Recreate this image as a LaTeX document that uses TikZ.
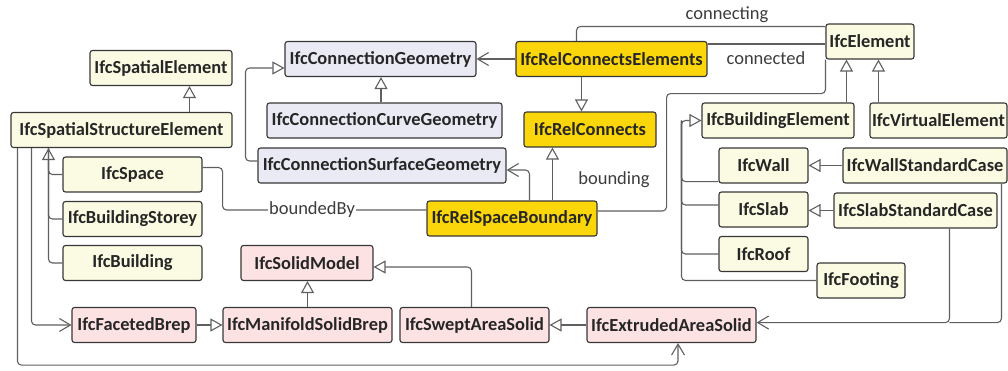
\documentclass[tikz,border=0pt]{standalone}
\usepackage{fontspec}
\setmainfont{Carlito}
\usetikzlibrary{arrows.meta,calc}
\definecolor{cream}{RGB}{251,250,226}
\definecolor{lilac}{RGB}{234,234,245}
\definecolor{gold}{RGB}{250,214,10}
\definecolor{rose}{RGB}{253,226,228}
\definecolor{edge}{RGB}{55,55,55}
\definecolor{wirecol}{RGB}{95,95,95}
\definecolor{lblcol}{RGB}{60,60,60}
\tikzset{
  cls/.style={draw=edge, line width=1.1pt, rounded corners=2.5pt, inner sep=0pt,
    minimum height=35pt, text=black!85, font=\fontsize{18.4}{21}\selectfont\bfseries},
  lab/.style={inner sep=1pt, text=lblcol, font=\fontsize{18.5}{21}\selectfont},
  wire/.style={draw=wirecol, line width=1.1pt, rounded corners=4pt},
  inh/.style={wire, -{Triangle[length=12pt,width=13pt,fill=white]}},
  assoc/.style={wire, -{Straight Barb[length=11pt,width=13pt]}},
}
\begin{document}
\begin{tikzpicture}[x=1pt,y=-1pt]
\useasboundingbox (0,0) rectangle (1008,370);

% spatial structure classes
\node[cls, fill=cream, minimum width=142pt] (se)  at (161,68)    {IfcSpatialElement};
\node[cls, fill=cream, minimum width=221pt] (sse) at (121.5,130) {IfcSpatialStructureElement};
\node[cls, fill=cream, minimum width=139pt] (space)    at (132.5,174.5) {IfcSpace};
\node[cls, fill=cream, minimum width=139pt] (storey)   at (132.5,219)   {IfcBuildingStorey};
\node[cls, fill=cream, minimum width=139pt] (building) at (132.5,263)   {IfcBuilding};

% solid model classes
\node[cls, fill=rose, minimum width=124pt] (fb)  at (134,325)   {IfcFacetedBrep};
\node[cls, fill=rose, minimum width=169pt] (msb) at (307.5,325) {IfcManifoldSolidBrep};
\node[cls, fill=rose, minimum width=132pt] (sm)  at (307,263)   {IfcSolidModel};
\node[cls, fill=rose, minimum width=149pt] (sas) at (474.5,325) {IfcSweptAreaSolid};
\node[cls, fill=rose, minimum width=169pt] (eas) at (671.5,325) {IfcExtrudedAreaSolid};

% connection geometry classes
\node[cls, fill=lilac, minimum width=191pt] (cg)  at (380.5,59)  {IfcConnectionGeometry};
\node[cls, fill=lilac, minimum width=235pt] (ccg) at (384.5,120.5) {IfcConnectionCurveGeometry};
\node[cls, fill=lilac, minimum width=248pt] (csg) at (382,165.5) {IfcConnectionSurfaceGeometry};

% relationship classes
\node[cls, fill=gold, minimum width=191pt] (rce) at (611.5,59)  {IfcRelConnectsElements};
\node[cls, fill=gold, minimum width=132pt] (rc)  at (590,129.5) {IfcRelConnects};
\node[cls, fill=gold, minimum width=170pt] (rsb) at (512,218.5) {IfcRelSpaceBoundary};

% element classes
\node[cls, fill=cream, minimum width=88pt]  (el)   at (870,41.5)  {IfcElement};
\node[cls, fill=cream, minimum width=152pt] (be)   at (778,120.5) {IfcBuildingElement};
\node[cls, fill=cream, minimum width=137pt] (ve)   at (938.5,120.5) {IfcVirtualElement};
\node[cls, fill=cream, minimum width=89pt]  (wall) at (763.5,165.5) {IfcWall};
\node[cls, fill=cream, minimum width=89pt]  (slab) at (763.5,209.5) {IfcSlab};
\node[cls, fill=cream, minimum width=89pt]  (roof) at (763.5,254)   {IfcRoof};
\node[cls, fill=cream, minimum width=88pt]  (ft)   at (861,280.5)   {IfcFooting};
\node[cls, fill=cream, minimum width=164pt] (ws)   at (925,165.5)   {IfcWallStandardCase};
\node[cls, fill=cream, minimum width=163pt] (ss)   at (915.5,210.5) {IfcSlabStandardCase};

% spatial hierarchy
\draw[inh] ($(sse.north west)+(179,0)$) -- ($(se.south west)+(100,0)$);
\coordinate (st) at ($(sse.south west)+(38,0)$);
\draw[inh] (space.west) -| (st);
\draw[wire] (storey.west) -| (st);
\draw[wire] (building.west) -| (st);
\draw[assoc] ($(sse.south west)+(21,0)$) |- (fb.west);
\coordinate (ub) at ($(eas.south)+(6.5,22)$);
\draw[assoc] ($(sse.south west)+(7,0)$) |- (ub) -- (ub |- eas.south);

% solid model hierarchy
\draw[inh] (fb.east) -- (msb.west);
\draw[inh] (msb.north) -- (msb.north |- sm.south);
\draw[inh] ($(sas.north west)+(72,0)$) |- ($(sm.east)+(0,4)$);
\draw[inh] (eas.west) -- (sas.east);
\coordinate (sj) at ($(ss.south west)+(116,94)$);
\draw[assoc] ($(ss.south west)+(116,0)$) -- (sj) -- (sj -| eas.east);
\draw[wire] ($(ws.south west)+(159,0)$) |- (sj);

% space boundary
\draw[wire] ($(space.east)+(0,-7)$) -| ($(space.east)+(20,20)$) |- ($(rsb.west)+(0,-8.5)$);
\node[lab, fill=white] (lbounded) at (312,210) {boundedBy};
\draw[assoc] ($(rsb.north west)+(103,0)$) |- ($(csg.east)+(0,4.5)$);
\coordinate (r1) at ($(rsb.north west)+(126,0)$);
\draw[inh] (r1) -- (r1 |- rc.south);
\draw[wire] ($(rsb.east)+(0,-7.5)$) -| ($(rsb.east)+(69,-60)$) |- ($(el.south west)+(0,34)$) -- (el.south west);
\node[lab] (lbounding) at (614,180) {bounding};

% connects elements
\draw[assoc] (rce.west) -- (cg.east);
\coordinate (r2) at ($(rce.south west)+(66,0)$);
\draw[inh] (r2) -- (r2 |- rc.north);
\coordinate (r3) at ($(ccg.north)+(-3.5,0)$);
\draw[inh] (r3) -- (r3 |- cg.south);
\draw[inh] ($(csg.west)+(0,-4.5)$) -| ($(csg.west)+(-12,-50)$) |- ($(cg.west)+(0,9)$);
\coordinate (r4) at ($(rce.north west)+(61,0)$);
\draw[wire] (r4) |- ($(el.north west)+(0,3)$);
\node[lab] (lconnecting) at (727,15) {connecting};
\coordinate (r5) at ($(el.west)+(0,2.5)$);
\draw[wire] (r5 -| rce.east) -- (r5);
\node[lab] (lconnected) at (766,58) {connected};

% element hierarchy
\coordinate (r6) at ($(be.north west)+(145,0)$);
\draw[inh] (r6) -- (r6 |- el.south);
\coordinate (r7) at ($(ve.north west)+(9,0)$);
\draw[inh] (r7) -- (r7 |- el.south);
\coordinate (tt) at ($(be.west)+(-20,0)$);
\draw[inh] (ft.west) -| (tt) -- (be.west);
\draw[wire] (roof.west) -| (tt);
\draw[wire] ($(slab.west)+(0,-4.5)$) -| (tt);
\draw[wire] ($(wall.south west)+(0,-2)$) -| (tt);
\draw[inh] (ws.west) -- (wall.east);
\draw[inh] (ss.west) -- (ss.west -| slab.east);
\end{tikzpicture}
\end{document}
